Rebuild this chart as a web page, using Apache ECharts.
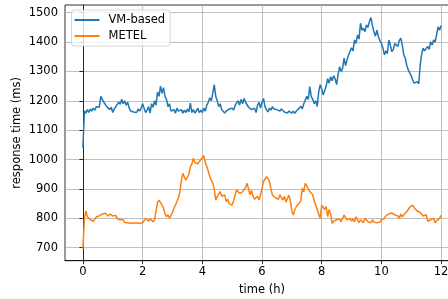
<!DOCTYPE html>
<html>
<head>
<meta charset="utf-8">
<script src="https://cdn.jsdelivr.net/npm/echarts@6/dist/echarts.min.js"></script>
<style>
  html, body { margin: 0; padding: 0; background: #fff; }
  #chart { width: 448px; height: 299px; }
</style>
</head>
<body>
<div id="chart"></div>
<script>
// samples every 0.05 h
var stepHours = 0.05;

var vmBased = [
  1040, 1165, 1158, 1170, 1160, 1172, 1165, 1175, 1168, 1180, 1185, 1178, 1215, 1205, 1195, 1200, 1180, 1185, 1170, 1178,
  1160, 1172, 1180, 1175, 1195, 1188, 1205, 1190, 1200, 1185, 1195, 1175, 1165, 1170, 1162, 1168, 1160, 1172, 1165, 1175,
  1190, 1175, 1160, 1168, 1180, 1158, 1190, 1178, 1200, 1185, 1230, 1215, 1250, 1225, 1245, 1215, 1205, 1180, 1190, 1165,
  1160, 1170, 1158, 1175, 1165, 1160, 1170, 1158, 1168, 1160, 1172, 1162, 1192, 1160, 1170, 1158, 1165, 1175, 1160, 1168,
  1160, 1175, 1165, 1185, 1195, 1210, 1200, 1225, 1255, 1215, 1200, 1180, 1190, 1170, 1175, 1158, 1165, 1160, 1172, 1168,
  1175, 1168, 1185, 1180, 1200, 1185, 1205, 1190, 1208, 1195, 1190, 1178, 1180, 1170, 1165, 1175, 1160, 1185, 1195, 1175,
  1195, 1208, 1180, 1170, 1162, 1175, 1168, 1180, 1172, 1178, 1170, 1175, 1165, 1172, 1170, 1162, 1168, 1158, 1165, 1160,
  1158, 1165, 1157, 1165, 1160, 1175, 1182, 1172, 1190, 1195, 1215, 1205, 1248, 1215, 1205, 1190, 1200, 1180, 1230, 1255,
  1240, 1220, 1235, 1250, 1275, 1260, 1282, 1268, 1285, 1275, 1255, 1290, 1316, 1300, 1310, 1345, 1320, 1340, 1356, 1350,
  1380, 1370, 1407, 1395, 1424, 1410, 1464, 1440, 1447, 1435, 1458, 1450, 1470, 1483, 1455, 1435, 1420, 1440, 1418, 1405,
  1396, 1380, 1356, 1370, 1360, 1407, 1390, 1367, 1375, 1395, 1396, 1385, 1405, 1413, 1390, 1356, 1345, 1320, 1305, 1299,
  1285, 1270, 1260, 1255, 1265, 1258, 1322, 1360, 1379, 1370, 1373, 1385, 1375, 1401, 1390, 1407, 1400, 1425, 1452, 1440, 1456
];

var metel = [
  696, 800, 825, 805, 810, 795, 800, 790, 795, 805, 800, 808, 805, 815, 810, 817, 812, 808, 815, 810,
  808, 805, 810, 798, 800, 795, 790, 795, 786, 790, 785, 788, 783, 787, 784, 790, 785, 788, 782, 787,
  785, 792, 800, 795, 790, 798, 793, 788, 795, 790, 855, 862, 858, 845, 835, 815, 805, 812, 800, 810,
  820, 835, 845, 850, 870, 891, 930, 953, 940, 930, 925, 950, 976, 985, 1004, 990, 995, 985, 990, 1000,
  995, 1013, 990, 976, 960, 942, 930, 919, 900, 862, 874, 880, 891, 875, 870, 880, 857, 865, 850, 845,
  845, 860, 880, 896, 890, 885, 880, 890, 888, 905, 919, 900, 880, 895, 875, 865, 862, 875, 862, 880,
  880, 925, 930, 942, 935, 925, 900, 879, 885, 870, 875, 865, 880, 870, 862, 875, 855, 860, 879, 860,
  825, 811, 830, 840, 845, 851, 860, 903, 890, 919, 910, 905, 891, 895, 880, 860, 845, 830, 815, 800,
  845, 851, 830, 840, 806, 830, 815, 783, 790, 785, 795, 790, 798, 788, 800, 811, 805, 795, 792, 800,
  790, 798, 788, 805, 800, 785, 795, 790, 785, 800, 795, 788, 792, 785, 795, 787, 793, 785, 790, 787,
  795, 790, 800, 808, 805, 815, 810, 818, 820, 812, 815, 808, 800, 815, 805, 812, 815, 822, 830, 838,
  840, 845, 835, 840, 825, 830, 820, 815, 808, 810, 812, 790, 785, 795, 790, 800, 785, 792, 788, 800, 810
];

var xTicks = [0, 2, 4, 6, 8, 10, 12];
var yTicks = [700, 800, 900, 1000, 1100, 1200, 1300, 1400, 1500];

function pairs(values) {
  var out = [];
  for (var i = 0; i < values.length; i++) {
    out.push([+(i * stepHours).toFixed(2), values[i]]);
  }
  return out;
}

var font = 'DejaVu Sans';
var fs = 11.5;
var gridLine = { show: true, lineStyle: { color: '#b0b0b0', width: 0.8 } };
var plain = function (v) { return String(v); };

var chart = echarts.init(document.getElementById('chart'), null, { renderer: 'canvas' });
chart.setOption({
  animation: false,
  textStyle: { fontFamily: font },
  grid: {
    left: 65, top: 5, width: 394, height: 255.7,
    outerBoundsMode: 'none', containLabel: false,
    show: true, borderColor: '#000', borderWidth: 0.8, backgroundColor: 'transparent'
  },
  legend: {
    orient: 'vertical',
    left: 71.5, top: 10,
    padding: [4, 5, 4, 3],
    itemGap: 4,
    itemWidth: 25, itemHeight: 2,
    icon: 'rect',
    backgroundColor: 'rgba(255,255,255,0.8)',
    borderColor: '#cccccc', borderWidth: 0.8, borderRadius: 3,
    textStyle: { fontFamily: font, fontSize: fs, color: '#000', padding: [0, 0, 0, 4] },
    data: ['VM-based', 'METEL']
  },
  xAxis: {
    type: 'value',
    min: -0.6, max: 12.6,
    name: 'time (h)', nameLocation: 'middle', nameGap: 23,
    nameTextStyle: { fontFamily: font, fontSize: fs, color: '#000' },
    axisLine: { show: true, lineStyle: { color: '#000', width: 0.8 } },
    axisTick: { show: true, customValues: xTicks, length: 3.5, lineStyle: { color: '#000', width: 0.8 } },
    axisLabel: { customValues: xTicks, formatter: plain, fontFamily: font, fontSize: fs, color: '#000', margin: 5 },
    splitLine: gridLine
  },
  yAxis: {
    type: 'value',
    min: 655.7, max: 1526,
    name: 'response time (ms)', nameLocation: 'middle', nameGap: 42,
    nameMoveOverlap: false,
    nameTextStyle: { fontFamily: font, fontSize: fs, color: '#000' },
    axisLine: { show: true, lineStyle: { color: '#000', width: 0.8 } },
    axisTick: { show: true, customValues: yTicks, length: 3.5, lineStyle: { color: '#000', width: 0.8 } },
    axisLabel: { customValues: yTicks, formatter: plain, fontFamily: font, fontSize: fs, color: '#000', margin: 7 },
    splitLine: gridLine
  },
  series: [
    {
      name: 'VM-based', type: 'line', data: pairs(vmBased),
      showSymbol: false, symbol: 'none',
      lineStyle: { color: '#1f77b4', width: 1.5 }, itemStyle: { color: '#1f77b4' }
    },
    {
      name: 'METEL', type: 'line', data: pairs(metel),
      showSymbol: false, symbol: 'none',
      lineStyle: { color: '#ff7f0e', width: 1.5 }, itemStyle: { color: '#ff7f0e' }
    }
  ]
});
</script>
</body>
</html>
